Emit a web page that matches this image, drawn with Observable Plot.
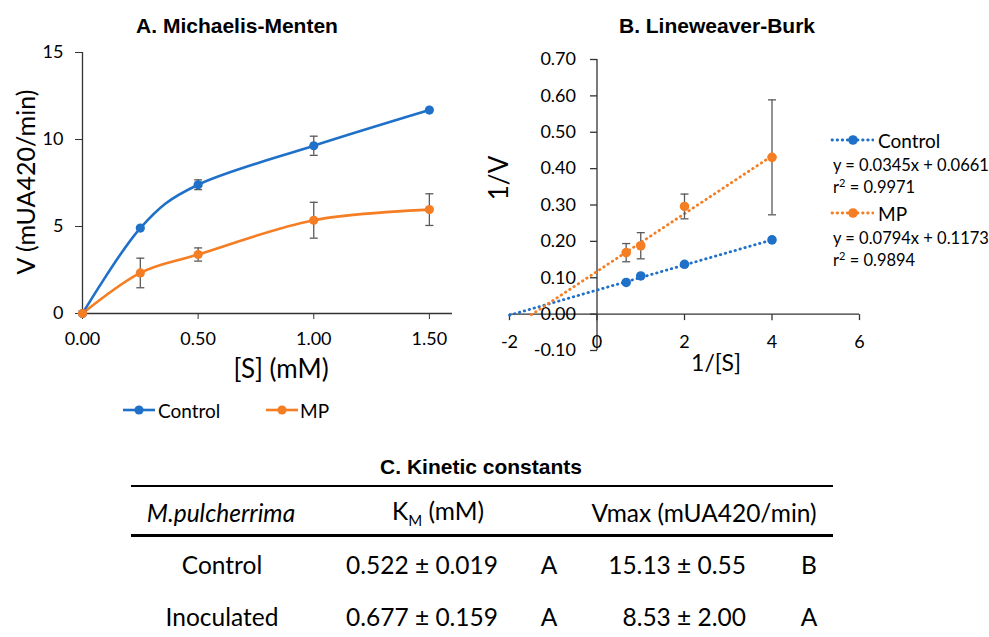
<!DOCTYPE html>
<html><head><meta charset="utf-8">
<script src="https://cdn.jsdelivr.net/npm/d3@7"></script>
<script src="https://cdn.jsdelivr.net/npm/@observablehq/plot@0.6"></script>
<style>
body{margin:0;background:#fff;}
#root{position:relative;width:989px;height:637px;overflow:hidden;font-family:Lato,"Noto Sans",sans-serif;color:#000;}
.abs{position:absolute;white-space:nowrap;line-height:1;}
.cc{transform:translate(-50%,-50%);}
.lc{transform:translate(0,-50%);}
.rot{transform:translate(-50%,-50%) rotate(-90deg);}
.title{font-family:"Liberation Sans",Arial,sans-serif;font-weight:bold;font-size:21px;}
.rule{position:absolute;background:#000;}
</style></head>
<body><div id="root"></div>
<script>
// ---- Panel A: Michaelis-Menten ----
const substrate = [0, 0.25, 0.5, 1.0, 1.5];
const vControl = [0, 4.91, 7.40, 9.64, 11.69];
const eControl = [0, 0, 0.28, 0.55, 0];
const vMP = [0, 2.33, 3.39, 5.36, 5.97];
const eMP = [0, 0.85, 0.38, 1.03, 0.91];
const xTicksA = [0, 0.5, 1.0, 1.5];
const yTicksA = [0, 5, 10, 15];

// ---- Panel B: Lineweaver-Burk ----
const invS = [0.667, 1, 2, 4];
const invVControl = [0.087, 0.105, 0.137, 0.204];
const invVMP = [0.169, 0.188, 0.296, 0.431];
const eInvMP = [0.025, 0.036, 0.034, 0.158];
const trendSlope = [0.0345, 0.0794];
const trendIntercept = [0.0661, 0.1173];
const trendR2 = ["0.9971", "0.9894"];
const trendFrom = [-2, -1.5];
const trendTo = [4, 4];
const xTicksB = [-2, 0, 2, 4, 6];
const yTicksB = [-0.1, 0, 0.1, 0.2, 0.3, 0.4, 0.5, 0.6, 0.7];

// ---- Table C: Kinetic constants ----
const tableGroups = ["Control", "Inoculated"];
const kmValues = ["0.522 ± 0.019", "0.677 ± 0.159"];
const kmLetters = ["A", "A"];
const vmaxValues = ["15.13 ± 0.55", "8.53 ± 2.00"];
const vmaxLetters = ["B", "A"];

const seriesNames = ["Control", "MP"];
const colors = ["#1f70c8", "#f57d23"];
const axisColor = "#333";
const errColor = "#5a5a5a";
const dotDash = "0.5,4.6";

const root = document.getElementById("root");
function addText(html, x, y, cls, style) {
  const d = document.createElement("div");
  d.className = "abs " + cls;
  d.innerHTML = html;
  d.style.left = x + "px"; d.style.top = y + "px";
  if (style) Object.assign(d.style, style);
  root.appendChild(d);
  return d;
}
const capSym = {draw(ctx) { ctx.moveTo(-4, 0); ctx.lineTo(4, 0); }};
const tickDown = {draw(ctx) { ctx.moveTo(0, 0); ctx.lineTo(0, 6); }};
const tickLeft = {draw(ctx) { ctx.moveTo(0, 0); ctx.lineTo(-7, 0); }};

// Panel A data rows
const rowsA = [vControl, vMP].map((vals, k) => substrate.map((s, i) => ({s, v: vals[i], e: [eControl, eMP][k][i]})));
const marksA = [
  Plot.axisX(xTicksA, {tickFormat: d => d.toFixed(2), tickSize: 6, tickPadding: 13, fontSize: 18, label: null, stroke: axisColor}),
  Plot.axisY(yTicksA, {tickFormat: d => String(d), tickSize: 7, tickPadding: 12, fontSize: 18, label: null, stroke: axisColor}),
  Plot.ruleY([0], {stroke: axisColor, strokeWidth: 1.3}),
  Plot.ruleX([0], {stroke: axisColor, strokeWidth: 1.3})
];
rowsA.forEach((rows, k) => {
  const err = rows.filter(d => d.e > 0);
  marksA.push(Plot.line(rows, {x: "s", y: "v", stroke: colors[k], strokeWidth: 2.6, curve: "cardinal"}));
  marksA.push(Plot.ruleX(err, {x: "s", y1: d => d.v - d.e, y2: d => d.v + d.e, stroke: errColor, strokeWidth: 1.3}));
  marksA.push(Plot.dot(err, {x: "s", y: d => d.v + d.e, symbol: capSym, stroke: errColor, strokeWidth: 1.3, fill: "none"}));
  marksA.push(Plot.dot(err, {x: "s", y: d => d.v - d.e, symbol: capSym, stroke: errColor, strokeWidth: 1.3, fill: "none"}));
});
rowsA.forEach((rows, k) => marksA.push(Plot.dot(rows, {x: "s", y: "v", r: 4.6, fill: colors[k], stroke: "none"})));

const chartA = Plot.plot({
  width: 470, height: 360, marginLeft: 82, marginRight: 18, marginTop: 52, marginBottom: 47,
  style: {fontFamily: "Lato, 'Noto Sans', sans-serif", fontSize: "18px", color: "#000", background: "transparent", overflow: "visible"},
  x: {domain: [0, 1.6]},
  y: {domain: [0, 15]},
  marks: marksA
});
chartA.style.position = "absolute"; chartA.style.left = "0px"; chartA.style.top = "0px";
root.appendChild(chartA);

// Panel B
const rowsB = [invVControl, invVMP].map((vals, k) => invS.map((x, i) => ({x, v: vals[i], e: k === 1 ? eInvMP[i] : 0})));
const trends = trendSlope.map((m, k) => [trendFrom[k], trendTo[k]].map(x => ({x, v: m * x + trendIntercept[k]})));
const marksB = [
  Plot.ruleX([0], {stroke: axisColor, strokeWidth: 1.3}),
  Plot.ruleY([0], {stroke: axisColor, strokeWidth: 1.3}),
  Plot.dot(xTicksB, {x: d => d, y: () => 0, symbol: tickDown, stroke: axisColor, strokeWidth: 1.3, fill: "none"}),
  Plot.dot(yTicksB, {x: () => 0, y: d => d, symbol: tickLeft, stroke: axisColor, strokeWidth: 1.3, fill: "none"}),
  Plot.text(xTicksB, {x: d => d, y: () => 0, text: d => String(d), dy: 28, fontSize: 18, fill: "#000"}),
  Plot.text(yTicksB, {x: () => 0, y: d => d, text: d => d.toFixed(2), dx: -21, textAnchor: "end", fontSize: 18, fill: "#000"})
];
trends.forEach((t, k) => marksB.push(Plot.line(t, {x: "x", y: "v", stroke: colors[k], strokeWidth: 2.8, strokeDasharray: dotDash, strokeLinecap: "round"})));
rowsB.forEach((rows, k) => {
  const err = rows.filter(d => d.e > 0);
  marksB.push(Plot.ruleX(err, {x: "x", y1: d => d.v - d.e, y2: d => d.v + d.e, stroke: errColor, strokeWidth: 1.3}));
  marksB.push(Plot.dot(err, {x: "x", y: d => d.v + d.e, symbol: capSym, stroke: errColor, strokeWidth: 1.3, fill: "none"}));
  marksB.push(Plot.dot(err, {x: "x", y: d => d.v - d.e, symbol: capSym, stroke: errColor, strokeWidth: 1.3, fill: "none"}));
});
rowsB.forEach((rows, k) => marksB.push(Plot.dot(rows, {x: "x", y: "v", r: 4.8, fill: colors[k], stroke: "none"})));

const chartB = Plot.plot({
  width: 519, height: 380, marginLeft: 39, marginRight: 130, marginTop: 59, marginBottom: 30,
  style: {fontFamily: "Lato, 'Noto Sans', sans-serif", fontSize: "18px", color: "#000", background: "transparent", overflow: "visible"},
  x: {domain: [-2, 6], axis: null},
  y: {domain: [-0.1, 0.7], axis: null},
  marks: marksB
});
chartB.style.position = "absolute"; chartB.style.left = "470px"; chartB.style.top = "0px";
root.appendChild(chartB);

// Titles and axis labels
addText("A. Michaelis-Menten", 237, 25, "cc title");
addText("B. Lineweaver-Burk", 717, 25, "cc title");
addText("V (mUA420/min)", 25, 182, "rot", {fontSize: "25px"});
addText("[S] (mM)", 281, 368, "cc", {fontSize: "26px"});
addText("1/V", 498, 178, "rot", {fontSize: "26px"});
addText("1/[S]", 716, 362, "cc", {fontSize: "23px"});

// Legend A
const legA = [{x: 123, tx: 158}, {x: 266, tx: 300}];
legA.forEach((p, k) => {
  addText(`<svg width="34" height="12"><line x1="1" y1="6" x2="33" y2="6" stroke="${colors[k]}" stroke-width="2.6"/><circle cx="17" cy="6" r="4.6" fill="${colors[k]}"/></svg>`, p.x - 1, 410, "lc");
  addText(seriesNames[k], p.tx, 410, "lc", {fontSize: "19px"});
});

// Legend B (trendlines)
const legBy = [140, 213];
legBy.forEach((y, k) => {
  addText(`<svg width="44" height="12"><line x1="2" y1="6" x2="43" y2="6" stroke="${colors[k]}" stroke-width="2.8" stroke-linecap="round" stroke-dasharray="${dotDash}"/><circle cx="23" cy="6" r="4.8" fill="${colors[k]}"/></svg>`, 830, y, "lc");
  addText(seriesNames[k], 878, y, "lc", {fontSize: "19px"});
  addText(`y = ${trendSlope[k].toFixed(4)}x + ${trendIntercept[k].toFixed(4)}`, 833, y + 25, "lc", {fontSize: "16.5px"});
  addText(`r<sup style="font-size:11px;vertical-align:6px">2</sup> = ${trendR2[k]}`, 833, y + 46, "lc", {fontSize: "16.5px"});
});

// Table C
addText("C. Kinetic constants", 481, 466, "cc title");
const rl = document.createElement("div"); rl.className = "rule";
Object.assign(rl.style, {left: "131px", top: "485px", width: "702px", height: "2px"}); root.appendChild(rl);
const rl2 = document.createElement("div"); rl2.className = "rule";
Object.assign(rl2.style, {left: "131px", top: "534px", width: "702px", height: "3px"}); root.appendChild(rl2);
const tfs = {fontSize: "24.5px"};
addText("<i>M.pulcherrima</i>", 221, 513, "cc", tfs);
addText("K<sub style='font-size:15px;vertical-align:-6px'>M</sub> (mM)", 438, 513, "cc", tfs);
addText("Vmax (mUA420/min)", 704, 513, "cc", tfs);
const rowY = [565, 617];
tableGroups.forEach((g, i) => {
  addText(g, 222, rowY[i], "cc", tfs);
  addText(kmValues[i], 498, rowY[i], "", Object.assign({transform: "translate(-100%,-50%)"}, tfs));
  addText(kmLetters[i], 549, rowY[i], "cc", tfs);
  addText(vmaxValues[i], 746, rowY[i], "", Object.assign({transform: "translate(-100%,-50%)"}, tfs));
  addText(vmaxLetters[i], 809, rowY[i], "cc", tfs);
});
</script>
</body></html>
